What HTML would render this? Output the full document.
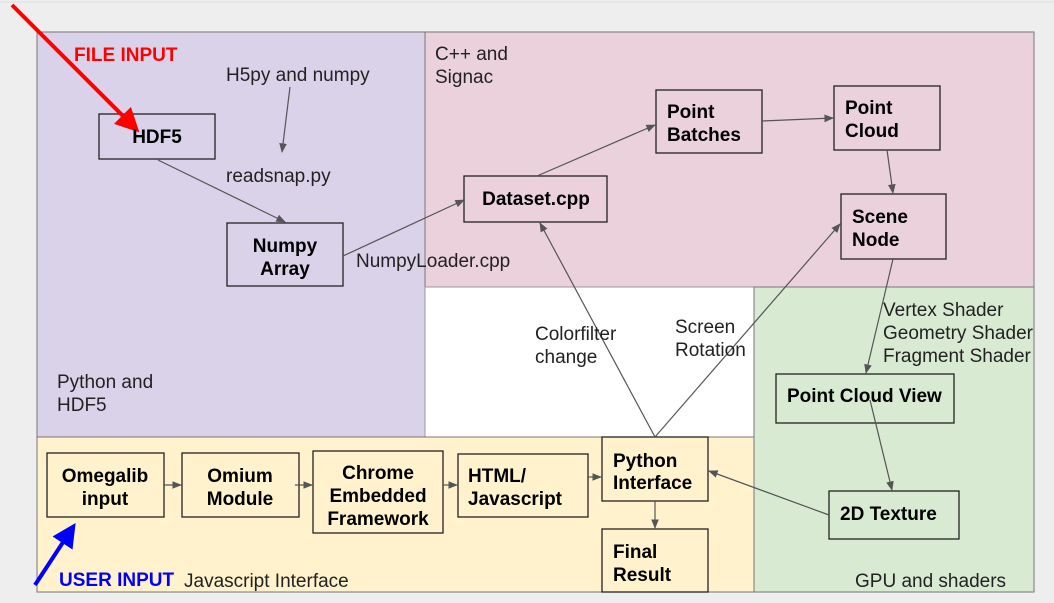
<!DOCTYPE html>
<html><head><meta charset="utf-8"><style>
html,body{margin:0;padding:0;background:#eeeeee;}
svg{display:block;font-family:"Liberation Sans",Arial,sans-serif;}
.b{font-weight:bold;font-size:19px;fill:#000;}
.t{font-size:19px;fill:#222;}
.box{stroke:#222;stroke-width:1.3;}
.ln{stroke:#555;stroke-width:1.2;fill:none;}
</style></head><body>
<svg width="1054" height="603" viewBox="0 0 1054 603">
<defs>
<marker id="a" viewBox="0 0 10 10" refX="9" refY="5" markerWidth="8" markerHeight="8" orient="auto"><path d="M0,1 L10,5 L0,9 z" fill="#555"/></marker>
<marker id="r" viewBox="0 0 10 10" refX="8" refY="5" markerWidth="6" markerHeight="6" orient="auto"><path d="M0,0 L10,5 L0,10 z" fill="#f00"/></marker>
<marker id="bl" viewBox="0 0 10 10" refX="8" refY="5" markerWidth="6" markerHeight="6" orient="auto"><path d="M0,0 L10,5 L0,10 z" fill="#00f"/></marker>
</defs>
<line x1="0" y1="2" x2="1054" y2="2" stroke="#ddd"/>
<rect x="37" y="32" width="388" height="405" fill="#d9d2e9" stroke="#777"/>
<rect x="425" y="32" width="609" height="255" fill="#ead1dc" stroke="#777"/>
<rect x="425" y="287" width="329" height="150" fill="#ffffff" stroke="#999"/>
<rect x="754" y="287" width="280" height="305" fill="#d9ead3" stroke="#777"/>
<rect x="37" y="437" width="717" height="155" fill="#fff2cc" stroke="#777"/>

<g fill="none" class="box">
<rect x="99" y="114" width="116" height="45"/>
<rect x="227" y="223" width="116" height="63"/>
<rect x="464" y="176" width="143" height="46"/>
<rect x="656" y="90" width="106" height="63"/>
<rect x="834" y="86" width="106" height="64"/>
<rect x="841" y="194" width="105" height="65"/>
<rect x="776" y="374" width="178" height="49"/>
<rect x="829" y="491" width="130" height="48"/>
<rect x="47" y="453" width="117" height="64"/>
<rect x="182" y="453" width="117" height="64"/>
<rect x="313" y="451" width="130" height="82"/>
<rect x="458" y="454" width="130" height="63"/>
<rect x="602" y="437" width="106" height="64"/>
<rect x="602" y="529" width="106" height="63"/>
</g>

<g class="ln" marker-end="url(#a)">
<line x1="290" y1="87" x2="282" y2="152"/>
<line x1="158" y1="160" x2="285" y2="222"/>
<path d="M343,256 L464,200"/>
<line x1="537" y1="176" x2="655" y2="125"/>
<line x1="762" y1="121" x2="833" y2="118"/>
<line x1="887" y1="150" x2="893" y2="193"/>
<line x1="893" y1="259" x2="866" y2="373"/>
<line x1="870" y1="400" x2="892" y2="490"/>
<line x1="829" y1="515" x2="709" y2="471"/>
<line x1="655" y1="437" x2="540" y2="223"/>
<line x1="655" y1="437" x2="840" y2="224"/>
<line x1="655" y1="501" x2="655" y2="528"/>
<line x1="164" y1="485" x2="181" y2="485"/>
<line x1="295" y1="485" x2="312" y2="485"/>
<line x1="443" y1="485" x2="457" y2="485"/>
<line x1="588" y1="477" x2="601" y2="477"/>
</g>

<line x1="12" y1="5" x2="136" y2="129" stroke="#f00" stroke-width="4" marker-end="url(#r)"/>
<line x1="35" y1="585" x2="73" y2="527" stroke="#00f" stroke-width="4" marker-end="url(#bl)"/>

<text x="74" y="61" font-weight="bold" font-size="19" fill="#f00">FILE INPUT</text>
<text x="59" y="586" font-weight="bold" font-size="19" fill="#00f">USER INPUT</text>
<text x="184" y="587" class="t">Javascript Interface</text>

<text x="226" y="81" class="t">H5py and numpy</text>
<text x="226" y="182" class="t">readsnap.py</text>
<text x="356" y="267" class="t">NumpyLoader.cpp</text>
<text x="57" y="388" class="t">Python and</text>
<text x="57" y="411" class="t">HDF5</text>
<text x="435" y="60" class="t">C++ and</text>
<text x="435" y="83" class="t">Signac</text>
<text x="535" y="340" class="t">Colorfilter</text>
<text x="535" y="363" class="t">change</text>
<text x="675" y="333" class="t">Screen</text>
<text x="675" y="356" class="t">Rotation</text>
<text x="883" y="316" class="t">Vertex Shader</text>
<text x="883" y="339" class="t">Geometry Shader</text>
<text x="883" y="362" class="t">Fragment Shader</text>
<text x="855" y="587" class="t">GPU and shaders</text>

<g class="b" text-anchor="middle">
<text x="157" y="143">HDF5</text>
<text x="285" y="252">Numpy</text><text x="285" y="275">Array</text>
<text x="536" y="205">Dataset.cpp</text>
<text x="105" y="482">Omegalib</text><text x="105" y="505">input</text>
<text x="240" y="482">Omium</text><text x="240" y="505">Module</text>
<text x="378" y="479">Chrome</text><text x="378" y="502">Embedded</text><text x="378" y="525">Framework</text>
</g>
<g class="b">
<text x="667" y="118">Point</text><text x="667" y="141">Batches</text>
<text x="845" y="114">Point</text><text x="845" y="137">Cloud</text>
<text x="852" y="223">Scene</text><text x="852" y="246">Node</text>
<text x="787" y="402">Point Cloud View</text>
<text x="840" y="520">2D Texture</text>
<text x="468" y="482">HTML/</text><text x="468" y="505">Javascript</text>
<text x="613" y="467">Python</text><text x="613" y="489">Interface</text>
<text x="613" y="558">Final</text><text x="613" y="581">Result</text>
</g>
</svg>
</body></html>
